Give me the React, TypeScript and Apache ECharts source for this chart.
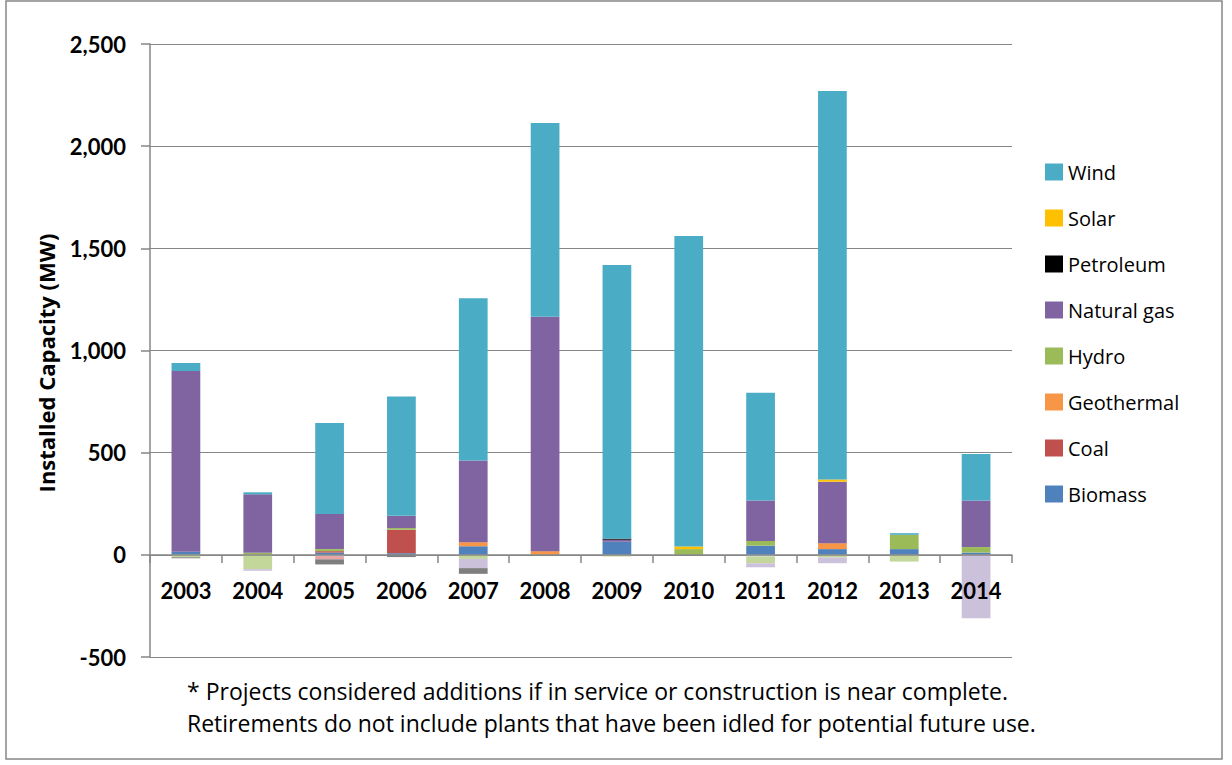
import React, { useEffect, useRef } from "react";
import * as echarts from "echarts";

const years = ["2003","2004","2005","2006","2007","2008","2009","2010","2011","2012","2013","2014"];

// Additions (MW)
const biomass = [15, 0, 11, 8, 42, 0, 64, 0, 45, 28, 28, 11];
const coal = [0, 0, 7, 115, 0, 0, 0, 0, 0, 0, 0, 0];
const geothermal = [0, 0, 0, 0, 20, 18, 0, 0, 0, 29, 0, 0];
const hydro = [0, 10, 10, 8, 0, 0, 0, 28, 23, 0, 70, 27];
const naturalGas = [885, 286, 172, 60, 400, 1147, 10, 0, 198, 301, 0, 228];
const petroleum = [0, 0, 0, 0, 0, 0, 5, 0, 0, 0, 0, 0];
const solar = [0, 0, 0, 0, 0, 0, 0, 13, 0, 11, 0, 0];
const wind = [39, 10, 445, 584, 794, 948, 1340, 1519, 527, 1901, 8, 228];

// Retirements (MW, negative)
const biomassRet = [0, 0, -6, 0, 0, 0, 0, 0, -8, 0, 0, 0];
const coalRet = [0, 0, -16, 0, 0, 0, 0, 0, 0, 0, 0, 0];
const hydroRet = [-12, -70, 0, 0, -20, 0, -8, 0, -33, -13, -33, 0];
const gasRet = [0, -8, 0, 0, -45, 0, 0, 0, -20, -28, 0, -310];
const petroleumRet = [-5, 0, -25, -11, -28, 0, 0, 0, 0, 0, 0, 0];

const legendOrder = ["Wind", "Solar", "Petroleum", "Natural gas", "Hydro", "Geothermal", "Coal", "Biomass"];

const footLine1 = "* Projects considered additions if in service or construction is near complete.";
const footLine2 = "Retirements do not include plants that have been idled for potential future use.";
const yTitle = "Installed Capacity (MW)";

const AXIS_FONT = "Lato, 'Liberation Sans', sans-serif";
const TEXT_FONT = "'Open Sans', 'Liberation Sans', sans-serif";

const Y_MIN = -500;
const Y_MAX = 2500;
const GRID_TOP = 44;
const GRID_BOTTOM_PX = 657;

export default function App() {
  const ref = useRef<HTMLDivElement>(null);
  useEffect(() => {
    if (!ref.current) return;
    const chart = echarts.init(ref.current, null, { renderer: "svg" });
    const plotH = GRID_BOTTOM_PX - GRID_TOP;
    const zeroOffset = -Math.round((plotH * (0 - Y_MIN)) / (Y_MAX - Y_MIN));
    const mk = (name: string, data: number[], color: string) => ({
      name,
      type: "bar",
      stack: "total",
      data,
      barWidth: "40%",
      itemStyle: { color },
      emphasis: { disabled: true },
    });
    chart.setOption({
      animation: false,
      textStyle: { fontFamily: TEXT_FONT },
      grid: { left: 150, right: 220, top: GRID_TOP, bottom: 765 - GRID_BOTTOM_PX, containLabel: false },
      legend: {
        data: legendOrder,
        orient: "vertical",
        left: 1040,
        top: 157,
        itemWidth: 18,
        itemHeight: 17,
        itemGap: 26,
        icon: "rect",
        textStyle: { fontSize: 20, color: "#000", fontFamily: TEXT_FONT },
        selectedMode: false,
      },
      xAxis: {
        type: "category",
        data: years,
        z: 10,
        offset: zeroOffset,
        axisLine: { onZero: false, lineStyle: { color: "#868686", width: 1.5 } },
        axisTick: { show: true, length: 8, lineStyle: { color: "#868686", width: 1.5 } },
        axisLabel: { margin: 24, fontSize: 22, fontWeight: "bold", color: "#000", fontFamily: AXIS_FONT },
      },
      yAxis: {
        type: "value",
        min: Y_MIN,
        max: Y_MAX,
        interval: 500,
        axisLine: { show: true, lineStyle: { color: "#868686", width: 1.5 } },
        axisTick: { show: true, length: 9, lineStyle: { color: "#868686", width: 1.5 } },
        splitLine: { lineStyle: { color: "#868686", width: 1 } },
        axisLabel: {
          margin: 24,
          fontSize: 22,
          fontWeight: "bold",
          color: "#000",
          fontFamily: AXIS_FONT,
          formatter: (v: number) => v.toLocaleString("en-US"),
        },
      },
      graphic: [
        {
          type: "rect",
          shape: { x: 6, y: 1, width: 1216, height: 758 },
          style: { fill: "none", stroke: "#868686", lineWidth: 1.5 },
          z: -10,
          silent: true,
        },
        {
          type: "text",
          x: 46,
          y: 363,
          rotation: Math.PI / 2,
          style: {
            text: yTitle,
            fontSize: 22,
            fontWeight: "bold",
            fontFamily: TEXT_FONT,
            fill: "#000",
            align: "center",
            verticalAlign: "middle",
          },
        },
        {
          type: "text",
          x: 187,
          y: 691,
          style: { text: footLine1, fontSize: 23, fontFamily: TEXT_FONT, fill: "#000", verticalAlign: "middle" },
        },
        {
          type: "text",
          x: 187,
          y: 723,
          style: { text: footLine2, fontSize: 23, fontFamily: TEXT_FONT, fill: "#000", verticalAlign: "middle" },
        },
      ],
      series: [
        mk("Biomass", biomass, "#4F81BD"),
        mk("Coal", coal, "#C0504D"),
        mk("Geothermal", geothermal, "#F79646"),
        mk("Hydro", hydro, "#9BBB59"),
        mk("Natural gas", naturalGas, "#8064A2"),
        mk("Petroleum", petroleum, "#000000"),
        mk("Solar", solar, "#FFC000"),
        mk("Wind", wind, "#4BACC6"),
        mk("Biomass retired", biomassRet, "#B9CDE5"),
        mk("Coal retired", coalRet, "#E6A5A4"),
        mk("Hydro retired", hydroRet, "#C4D79B"),
        mk("Natural gas retired", gasRet, "#CCC1DA"),
        mk("Petroleum retired", petroleumRet, "#7F7F7F"),
      ],
    });
    return () => chart.dispose();
  }, []);
  return (
    <div
      ref={ref}
      style={{ position: "absolute", left: 0, top: 0, width: 1232, height: 765, background: "#fff" }}
    />
  );
}
